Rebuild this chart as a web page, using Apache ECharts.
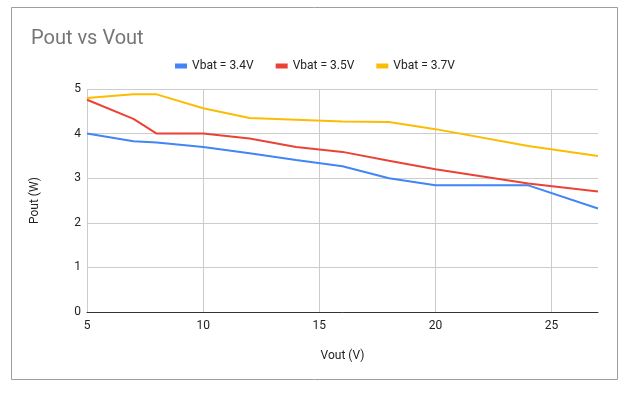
<!DOCTYPE html>
<html>
<head>
<meta charset="UTF-8">
<title>Pout vs Vout</title>
<script src="https://cdn.jsdelivr.net/npm/echarts@6/dist/echarts.min.js"></script>
<style>
html, body { margin: 0; padding: 0; background: #fff; }
</style>
</head>
<body>
<div id="main" style="width:630px;height:396px;"></div>
<script type="text/javascript">
// data
var vout = [5, 7, 8, 10, 12, 14, 16, 18, 20, 24, 27];
var vbat34 = [4.0, 3.83, 3.8, 3.7, 3.56, 3.41, 3.27, 3.0, 2.84, 2.84, 2.32];
var vbat35 = [4.76, 4.33, 4.0, 4.0, 3.89, 3.7, 3.59, 3.39, 3.2, 2.88, 2.7];
var vbat37 = [4.8, 4.88, 4.88, 4.57, 4.35, 4.31, 4.27, 4.26, 4.1, 3.72, 3.5];
var seriesNames = ['Vbat = 3.4V', 'Vbat = 3.5V', 'Vbat = 3.7V'];
var colors = ['#4285f4', '#ea4335', '#fbbc04'];

function pairs(ys) {
	var out = [];
	for (var i = 0; i < vout.length; i++) {
		out.push([vout[i], ys[i]]);
	}
	return out;
}

var myChart = echarts.init(document.getElementById('main'));
myChart.setOption({
	backgroundColor: '#fff',
	animation: false,
	color: colors,
	textStyle: { fontFamily: 'Roboto' },
	title: {
		text: 'Pout vs Vout',
		left: 26,
		top: 24,
		textStyle: { color: '#757575', fontSize: 20, fontWeight: 'normal', fontFamily: 'Roboto' }
	},
	legend: {
		top: 55,
		left: 'center',
		itemWidth: 12,
		itemHeight: 5,
		itemGap: 22,
		icon: 'rect',
		textStyle: { color: '#222', fontSize: 12 },
		data: seriesNames
	},
	graphic: [{
		type: 'rect',
		shape: { x: 11.5, y: 7.5, width: 606, height: 372 },
		style: { fill: 'none', stroke: '#9e9e9e', lineWidth: 1 },
		silent: true
	}],
	grid: { left: 87, right: 32, top: 89, bottom: 84, containLabel: false },
	xAxis: {
		type: 'value',
		min: 5,
		max: 27,
		interval: 5,
		name: 'Vout (V)',
		nameLocation: 'middle',
		nameGap: 38,
		nameTextStyle: { color: '#222', fontSize: 12 },
		axisLine: { show: true, lineStyle: { color: '#333', width: 1 } },
		axisTick: { show: false },
		axisLabel: { color: '#222', fontSize: 12, margin: 8, showMaxLabel: false },
		splitLine: {
			show: true,
			lineStyle: { color: ['#cccccc', '#cccccc', '#cccccc', '#cccccc', '#cccccc', 'rgba(0,0,0,0)'], width: 1 }
		}
	},
	yAxis: {
		type: 'value',
		min: 0,
		max: 5,
		interval: 1,
		name: 'Pout (W)',
		nameLocation: 'middle',
		nameGap: 46,
		nameTextStyle: { color: '#222', fontSize: 12 },
		axisLine: { show: false },
		axisTick: { show: false },
		axisLabel: { color: '#222', fontSize: 12, margin: 6 },
		splitLine: { show: true, lineStyle: { color: '#cccccc', width: 1 } }
	},
	series: [
		{ name: seriesNames[0], type: 'line', data: pairs(vbat34), showSymbol: false, lineStyle: { width: 2 } },
		{ name: seriesNames[1], type: 'line', data: pairs(vbat35), showSymbol: false, lineStyle: { width: 2 } },
		{ name: seriesNames[2], type: 'line', data: pairs(vbat37), showSymbol: false, lineStyle: { width: 2 } }
	]
});
</script>
</body>
</html>
